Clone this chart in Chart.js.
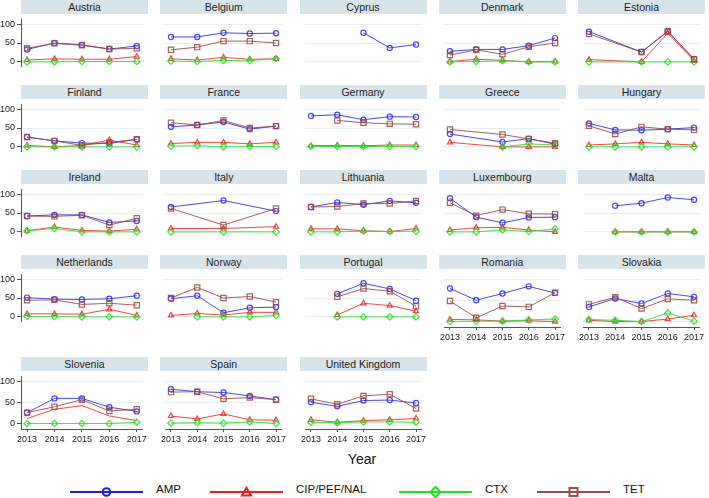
<!DOCTYPE html>
<html lang="en">
<head>
<meta charset="UTF-8">
<title>Resistance by country, 2013-2017</title>
<script src="https://cdn.jsdelivr.net/npm/chart.js"></script>
<style>
  body { margin: 0; background: #fff; font-family: "Liberation Sans", Arial, sans-serif; }
  #wrap { position: relative; width: 709px; height: 498px; overflow: hidden; background: #fff; }
  .head { position: absolute; height: 14px; background: #d9e3ea; color: #1e1e1e; font-size: 10.5px; line-height: 14px; text-align: center; }
  canvas { position: absolute; }
  #xtitle { position: absolute; top: 451px; left: 312px; width: 100px; text-align: center; font-size: 14px; color: #111; }
  .ktext { position: absolute; top: 483px; font-size: 11.5px; color: #111; }
  .ksym { position: absolute; top: 484px; }
</style>
</head>
<body>
<div id="wrap">
  <div id="xtitle">Year</div>
</div>

<script>
const years = [2013, 2014, 2015, 2016, 2017];

const countries = ['Austria', 'Belgium', 'Cyprus', 'Denmark', 'Estonia',
  'Finland', 'France', 'Germany', 'Greece', 'Hungary',
  'Ireland', 'Italy', 'Lithuania', 'Luxembourg', 'Malta',
  'Netherlands', 'Norway', 'Portugal', 'Romania', 'Slovakia',
  'Slovenia', 'Spain', 'United Kingdom'];

const seriesNames = ['AMP', 'CIP/PEF/NAL', 'CTX', 'TET'];

// one row per country, one value per year (null = not reported)
const AMP = [
  [33, 50, 45, 34, 42], [66, 66, 77, 75, 76], [null, null, 77, 37, 46], [28, 33, 33, 43, 63], [80, null, 26, 80, 8],
  [26, 16, 10, 9, 20], [53, 58, 66, 47, 55], [82, 85, 72, 80, 79], [34, null, 13, 22, 7], [62, 45, 44, 47, 51],
  [42, 45, 45, 25, 29], [66, null, 83, null, 55], [66, 78, 72, 82, 77], [89, 39, 24, 38, 39], [null, 69, 76, 91, 85],
  [51, 47, 46, 48, 56], [48, 56, 11, 24, 26], [null, 61, 89, 74, 43], [79, 51, 67, 84, 68], [35, 55, 43, 67, 59],
  [26, 60, 60, 39, 29], [82, 76, 74, 66, 57], [51, 41, 55, 56, 49]
];
const CIP = [
  [5, 8, 7, 7, 14], [8, 5, 12, 7, 8], [null, null, null, null, null], [1, 7, 4, 0, 1], [6, null, 0, 76, 3],
  [4, 0, 4, 18, 5], [9, 12, 12, 8, 12], [3, 4, 3, 5, 5], [12, null, 0, 0, 0], [5, 8, 12, 8, 5],
  [3, 13, 4, 2, 7], [9, null, 9, null, 14], [8, 8, 3, 1, 9], [5, 11, 12, 5, 0], [null, 0, 0, 0, 0],
  [8, 8, 7, 20, 4], [4, 9, 5, 12, 12], [null, 5, 36, 30, 15], [5, 4, 1, 2, 0], [3, 0, 0, 6, 15],
  [12, 34, 43, 18, 7], [18, 11, 23, 9, 8], [9, 3, 7, 9, 12]
];
const CTX = [
  [0, 0, 1, 1, 1], [2, 1, 4, 3, 9], [null, null, null, null, null], [0, 1, 3, 0, 0], [0, null, 0, 0, 0],
  [0, 0, 0, 0, 0], [2, 3, 0, 1, 1], [1, 1, 1, 1, 1], [null, null, 0, 8, 5], [0, 0, 0, 0, 0],
  [3, 9, 0, 0, 0], [0, null, 0, null, 0], [0, 0, 2, 1, 2], [0, 0, 5, 1, 8], [null, 0, 0, 0, 0],
  [1, 1, 0, 0, 0], [null, 0, 0, 0, 4], [null, 0, 0, 0, 0], [0, 1, 1, 4, 6], [5, 3, 0, 20, 1],
  [0, 0, 0, 0, 3], [1, 2, 1, 4, 0], [3, 2, 4, 4, 3]
];
const TET = [
  [36, 49, 44, 34, 36], [32, 39, 55, 55, 50], [null, null, null, null, null], [18, 32, 20, 40, 50], [74, null, 26, 82, 7],
  [26, 16, 4, 12, 20], [64, 58, 70, 50, 55], [null, 70, 64, 61, 60], [46, null, 33, 21, 10], [56, 34, 53, 47, 45],
  [42, 41, 44, 18, 36], [62, null, 18, null, 62], [66, 67, 75, 75, 82], [77, 43, 59, 48, 47], [null, null, null, null, null],
  [44, 45, 33, 36, 31], [50, 78, 50, 54, 39], [null, 53, 75, 68, 28], [49, 9, 37, 35, 69], [41, 58, 31, 54, 51],
  [26, 40, 57, 30, 34], [75, 76, 59, 62, 57], [59, 46, 66, 70, 36]
];
const yTicks = [0, 50, 100];

const seriesData = [AMP, CIP, CTX, TET];
const lineColors = ['rgba(40,40,225,0.85)', 'rgba(232,40,40,0.85)', 'rgba(45,222,45,0.9)', 'rgba(150,68,68,0.85)'];
const keyColors = ['#1f1fd8', '#e82020', '#22e022', '#a04848'];
const pointStyles = ['circle', 'triangle', 'rectRot', 'rect'];
const pointSizes = [2.6, 3, 3.2, 3.7];
const noMarkers = { 'Slovenia': ['CIP/PEF/NAL'] };

const colX = [21, 160.3, 299.5, 438.8, 578];
const rowY = [0, 85, 170, 255, 357];
const panelW = 127;

Chart.defaults.font.family = '"Liberation Sans", Arial, sans-serif';

const wrap = document.getElementById('wrap');

countries.forEach((name, i) => {
  const col = i % 5, row = Math.floor(i / 5);
  const x0 = colX[col], y0 = rowY[row];
  const withX = i + 5 >= countries.length;
  const withY = col === 0;

  const head = document.createElement('div');
  head.className = 'head';
  head.style.left = x0 + 'px';
  head.style.top = y0 + 'px';
  head.style.width = panelW + 'px';
  head.textContent = name;
  wrap.appendChild(head);

  const cv = document.createElement('canvas');
  const cw = Math.round(withY ? x0 + panelW : panelW);
  const ch = withX ? 76 : 58;
  cv.width = cw;
  cv.height = ch;
  cv.style.width = cw + 'px';
  cv.style.height = ch + 'px';
  cv.style.left = (withY ? 0 : x0) + 'px';
  cv.style.top = (y0 + 14) + 'px';
  wrap.appendChild(cv);

  new Chart(cv, {
    type: 'line',
    data: {
      datasets: seriesNames.map((s, k) => ({
        label: s,
        data: years.map((yr, j) => ({ x: yr, y: seriesData[k][i][j] })),
        borderColor: lineColors[k],
        borderWidth: 1,
        pointStyle: pointStyles[k],
        pointRadius: (noMarkers[name] || []).includes(s) ? 0 : pointSizes[k],
        pointBorderWidth: 1.2,
        pointBorderColor: lineColors[k],
        pointBackgroundColor: 'rgba(255,255,255,0)',
        spanGaps: true,
        tension: 0,
        order: 3 - k
      }))
    },
    options: {
      responsive: false,
      animation: false,
      layout: { padding: 0 },
      plugins: { legend: { display: false }, tooltip: { enabled: false } },
      scales: {
        x: {
          type: 'linear',
          min: 2012.78,
          max: 2017.22,
          display: withX,
          afterBuildTicks: s => { s.ticks = years.map(v => ({ value: v })); },
          afterFit: s => { s.height = withX ? 18 : 0; s.paddingLeft = 0; s.paddingRight = 0; },
          ticks: { callback: v => String(v), font: { size: 9 }, color: '#222', padding: 2, maxRotation: 0, autoSkip: false },
          grid: { drawOnChartArea: false, tickLength: 3, color: '#555', tickColor: '#555' },
          border: { color: '#555', width: 1 }
        },
        y: {
          min: -13,
          max: 113,
          afterBuildTicks: s => { s.ticks = yTicks.map(v => ({ value: v })); },
          afterFit: s => { s.width = withY ? 21 : 0; s.paddingTop = 0; s.paddingBottom = 0; },
          ticks: { display: withY, font: { size: 9 }, color: '#222', padding: 2 },
          grid: { color: '#e6eef1', drawTicks: withY, tickLength: 4, tickColor: '#555' },
          border: { display: withY, color: '#555', width: 1 }
        }
      }
    }
  });
});

// legend keys
const keyX = [70, 210, 399, 537];
const keyTextX = [156, 296, 485, 623];
const shapes = [
  c => `<circle cx="36.5" cy="6" r="3.8" fill="none" stroke="${c}" stroke-width="2"/>`,
  c => `<polygon points="36.5,1.8 41,9.5 32,9.5" fill="none" stroke="${c}" stroke-width="2"/>`,
  c => `<polygon points="36.5,0.8 41.5,6 36.5,11.2 31.5,6" fill="none" stroke="${c}" stroke-width="2"/>`,
  c => `<rect x="32.5" y="2" width="8" height="8" fill="none" stroke="${c}" stroke-width="2"/>`
];
seriesNames.forEach((s, k) => {
  const sym = document.createElement('div');
  sym.className = 'ksym';
  sym.style.left = keyX[k] + 'px';
  sym.innerHTML = `<svg width="73" height="12"><line x1="0" y1="6" x2="73" y2="6" stroke="${keyColors[k]}" stroke-width="2"/>${shapes[k](keyColors[k])}</svg>`;
  wrap.appendChild(sym);
  const t = document.createElement('div');
  t.className = 'ktext';
  t.style.left = keyTextX[k] + 'px';
  t.textContent = s;
  wrap.appendChild(t);
});
</script>
</body>
</html>
